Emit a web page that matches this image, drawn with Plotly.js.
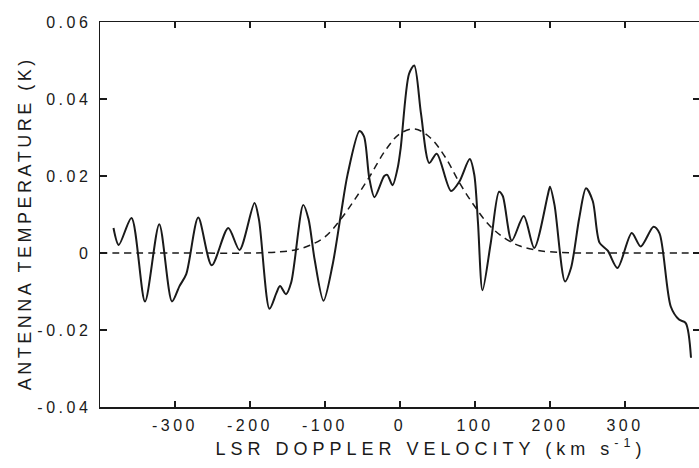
<!DOCTYPE html>
<html>
<head>
<meta charset="utf-8">
<script src="https://cdn.plot.ly/plotly-3.0.1.min.js"></script>
<style>
  html, body { margin: 0; padding: 0; background: #fff; overflow: hidden; }
  #chart { width: 700px; height: 468px; }
  .xtick text, .ytick text { letter-spacing: 3.5px; }
  .annotation[data-index="0"] .annotation-text { letter-spacing: 5px; }
  .annotation[data-index="1"] .annotation-text { letter-spacing: 3.5px; }
</style>
</head>
<body>
<div id="chart"></div>
<script>
// Observed spectrum (solid line)
const velocity = [-382,-375,-358,-340,-321,-304,-294,-285,-269,-251,-229,-214,-194,-188,-174,-165,-160,-152,-145,-129,-122,-114,-102,-90,-79,-70,-54,-48,-41,-34,-21,-17,-10,-3,1,12,19,28,39,49,68,79,93,99,104,110,121,132,137,149,165,179,197,200,206,220,228,239,248,257,266,277,290,309,321,338,346,361,372,381,388];
const temperature = [0.0065,0.0021,0.0091,-0.0126,0.0075,-0.0126,-0.0086,-0.0055,0.0092,-0.0032,0.0065,0.0008,0.0130,0.0086,-0.0145,-0.0105,-0.0086,-0.0107,-0.0076,0.0125,0.0088,-0.0015,-0.0124,-0.0032,0.0098,0.0203,0.0317,0.0303,0.0195,0.0145,0.0200,0.0203,0.0176,0.0222,0.0274,0.0465,0.0487,0.0362,0.0234,0.0258,0.0161,0.0185,0.0244,0.0204,0.0078,-0.0097,0.0026,0.0159,0.0148,0.0032,0.0096,0.0013,0.0150,0.0172,0.0125,-0.0074,-0.0039,0.0091,0.0168,0.0135,0.0027,0.0006,-0.0039,0.0052,0.0017,0.0068,0.0051,-0.0139,-0.0173,-0.0182,-0.0272];

// Fitted profile (dashed line)
const fitVelocity = [-400,-300,-200,-160,-140,-120,-100,-80,-60,-40,-20,0,20,40,60,80,100,120,140,160,180,200,240,300,400];
const fitTemperature = [0,0,0,0.0003,0.0008,0.002,0.0042,0.0085,0.014,0.020,0.0265,0.031,0.0322,0.030,0.025,0.018,0.012,0.007,0.0038,0.0018,0.0008,0.0003,0,0,0];

// Axis ticks
const xTickVals = [-300,-200,-100,0,100,200,300];
const xTickText = ['-300','-200','-100','0','100','200','300'];
const yTickVals = [-0.04,-0.02,0,0.02,0.04,0.06];
const yTickText = ['-0.04','-0.02','0','0.02','0.04','0.06'];

const xTitle = 'LSR DOPPLER VELOCITY (km s<sup>-1</sup>)';
const yTitle = 'ANTENNA TEMPERATURE (K)';

const ink = '#1a1a1a';
const fontFam = 'Liberation Sans, Arial, sans-serif';

const traces = [
  {
    x: fitVelocity, y: fitTemperature, type: 'scatter', mode: 'lines',
    line: {color: ink, width: 1.5, dash: '7px,5px', shape: 'spline', smoothing: 1},
    hoverinfo: 'skip', showlegend: false
  },
  {
    x: velocity, y: temperature, type: 'scatter', mode: 'lines',
    line: {color: ink, width: 2, shape: 'spline', smoothing: 0.8},
    showlegend: false
  }
];

const layout = {
  width: 700, height: 468,
  margin: {l: 100, r: 0, t: 22, b: 61},
  paper_bgcolor: '#fff', plot_bgcolor: '#fff',
  font: {family: fontFam, color: ink, size: 16},
  showlegend: false,
  xaxis: {
    range: [-400, 400], tickvals: xTickVals, ticktext: xTickText,
    ticks: 'inside', ticklen: 6, tickwidth: 1.2, tickcolor: ink,
    showline: true, linecolor: ink, linewidth: 1.5, mirror: 'ticks',
    showgrid: false, zeroline: false,
    tickfont: {family: fontFam, size: 16, color: ink},
    ticklabelstandoff: 3
  },
  yaxis: {
    range: [-0.04, 0.06], tickvals: yTickVals, ticktext: yTickText,
    ticks: 'inside', ticklen: 7, tickwidth: 1.2, tickcolor: ink,
    showline: true, linecolor: ink, linewidth: 1.5, mirror: 'ticks',
    showgrid: false, zeroline: false,
    tickfont: {family: fontFam, size: 16, color: ink},
    ticklabelstandoff: 4
  },
  annotations: [
    {
      text: xTitle, xref: 'paper', yref: 'paper',
      x: 0.552, y: -0.105, xanchor: 'center', yanchor: 'middle',
      showarrow: false, font: {family: fontFam, size: 18, color: ink}
    },
    {
      text: yTitle, xref: 'paper', yref: 'paper', textangle: -90,
      x: -0.124, y: 0.477, xanchor: 'center', yanchor: 'middle',
      showarrow: false, font: {family: fontFam, size: 18, color: ink}
    }
  ]
};

Plotly.newPlot('chart', traces, layout, {displayModeBar: false, staticPlot: true});
</script>
</body>
</html>
